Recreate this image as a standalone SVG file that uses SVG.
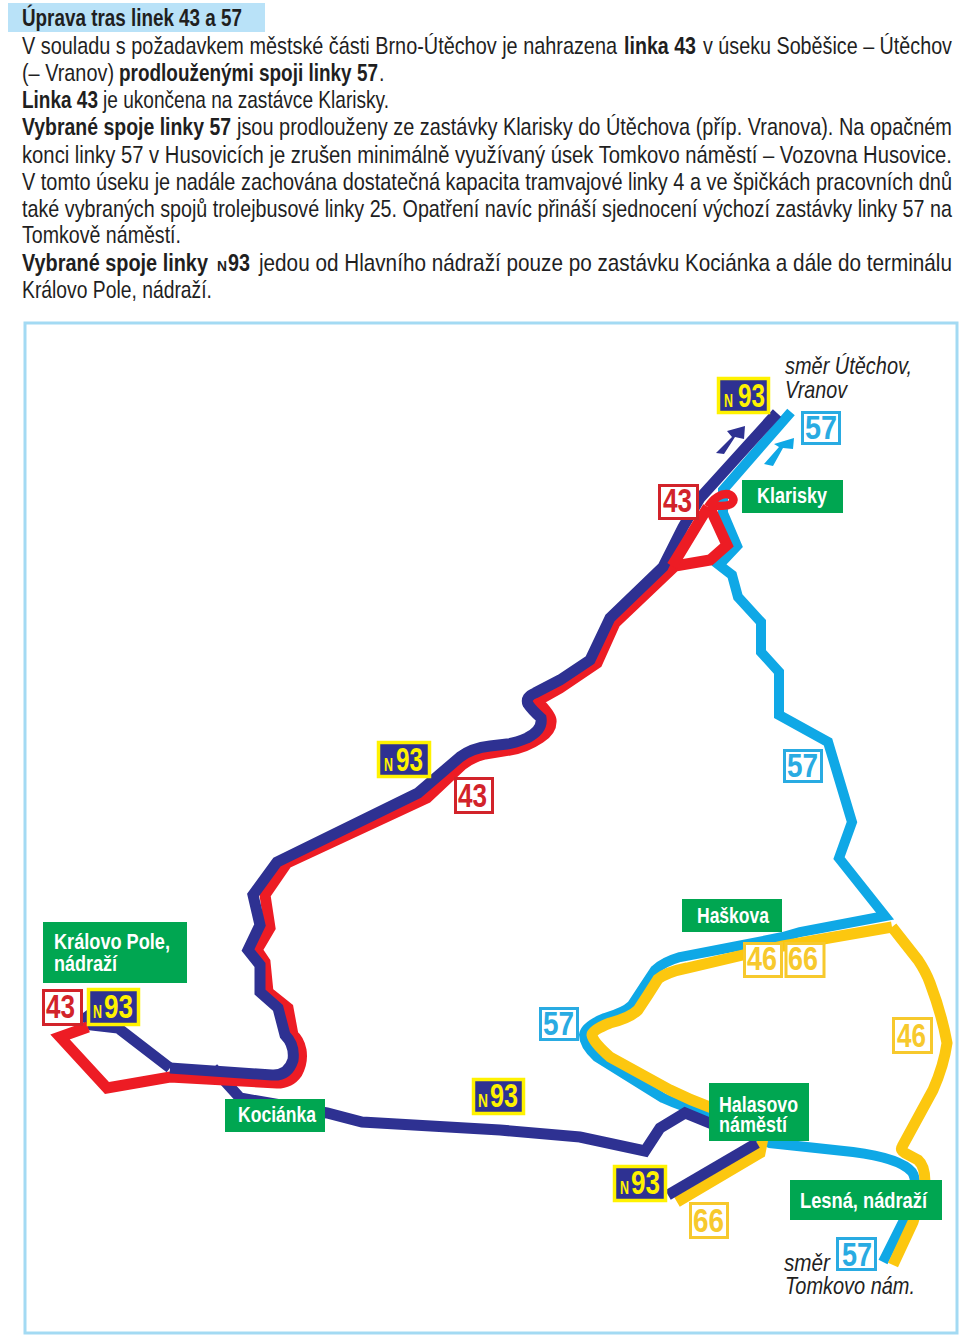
<svg xmlns="http://www.w3.org/2000/svg" width="960" height="1342" viewBox="0 0 960 1342">
<style>
text{font-family:"Liberation Sans Narrow","Liberation Sans",Arial,sans-serif}
.t{font-size:24px;fill:#1f1f1f}
.b{font-weight:700}
.d{font-size:24px;fill:#1f1f1f;font-style:italic}
.g{fill:#00a651}
.l{font-size:22px;font-weight:700;fill:#fff}
.n{font-size:33px;font-weight:700}
.line{fill:none;stroke-width:11;stroke-linejoin:miter;stroke-miterlimit:6}
.nv{stroke:#2e3192}.rd{stroke:#ed1c24}.bl{stroke:#0fa8e6;stroke-width:10}.yl{stroke:#fcc70f}
.bx{fill:#fff;stroke-width:3}
.ny{fill:#2e3192;stroke:#fff200;stroke-width:3.5}
.ytx{fill:#fff200}
</style>
<rect x="8" y="3" width="257" height="29" fill="#b9e2f8"/>
<rect x="25" y="323" width="932" height="1010" fill="none" stroke="#a3daf3" stroke-width="3"/>
<g id="text">
<text class="t b" transform="scale(.82 1)" x="26.83" y="26" textLength="268.3" lengthAdjust="spacingAndGlyphs">Úprava tras linek 43 a 57</text>
<text class="t" transform="scale(.82 1)" x="26.83" y="54" textLength="725.6" lengthAdjust="spacingAndGlyphs">V souladu s požadavkem městské části Brno-Útěchov je nahrazena</text>
<text class="t b" transform="scale(.82 1)" x="760.98" y="54" textLength="87.8" lengthAdjust="spacingAndGlyphs">linka 43</text>
<text class="t" transform="scale(.82 1)" x="857.3" y="54" textLength="303.66" lengthAdjust="spacingAndGlyphs">v úseku Soběšice – Útěchov</text>
<text class="t" transform="scale(.82 1)" x="26.83" y="81.5" textLength="112.2" lengthAdjust="spacingAndGlyphs">(– Vranov)</text>
<text class="t b" transform="scale(.82 1)" x="145.1" y="81.5" textLength="315.85" lengthAdjust="spacingAndGlyphs">prodlouženými spoji linky 57</text>
<text class="t" transform="scale(.82 1)" x="462.2" y="81.5">.</text>
<text class="t b" transform="scale(.82 1)" x="26.83" y="108" textLength="92.68" lengthAdjust="spacingAndGlyphs">Linka 43</text>
<text class="t" transform="scale(.82 1)" x="125.6" y="108" textLength="348.8" lengthAdjust="spacingAndGlyphs">je ukončena na zastávce Klarisky.</text>
<text class="t b" transform="scale(.82 1)" x="26.83" y="135.5" textLength="254.9" lengthAdjust="spacingAndGlyphs">Vybrané spoje linky 57</text>
<text class="t" transform="scale(.82 1)" x="289" y="135.5" textLength="871.95" lengthAdjust="spacingAndGlyphs">jsou prodlouženy ze zastávky Klarisky do Útěchova (příp. Vranova). Na opačném</text>
<text class="t" transform="scale(.82 1)" x="26.83" y="163" textLength="1134.1" lengthAdjust="spacingAndGlyphs">konci linky 57 v Husovicích je zrušen minimálně využívaný úsek Tomkovo náměstí – Vozovna Husovice.</text>
<text class="t" transform="scale(.82 1)" x="26.83" y="190" textLength="1134.1" lengthAdjust="spacingAndGlyphs">V tomto úseku je nadále zachována dostatečná kapacita tramvajové linky 4 a ve špičkách pracovních dnů</text>
<text class="t" transform="scale(.82 1)" x="26.83" y="217" textLength="1134.1" lengthAdjust="spacingAndGlyphs">také vybraných spojů trolejbusové linky 25. Opatření navíc přináší sjednocení výchozí zastávky linky 57 na</text>
<text class="t" transform="scale(.82 1)" x="26.83" y="243.5" textLength="193.9" lengthAdjust="spacingAndGlyphs">Tomkově náměstí.</text>
<text class="t b" transform="scale(.82 1)" x="26.83" y="271" textLength="226.8" lengthAdjust="spacingAndGlyphs">Vybrané spoje linky</text>
<text class="t b" transform="scale(.82 1)" x="264.6" y="271" font-size="15" style="font-size:15px" textLength="12.2" lengthAdjust="spacingAndGlyphs">N</text>
<text class="t b" transform="scale(.82 1)" x="278.05" y="271" textLength="26.83" lengthAdjust="spacingAndGlyphs">93</text>
<text class="t" transform="scale(.82 1)" x="315.85" y="271" textLength="845.1" lengthAdjust="spacingAndGlyphs">jedou od Hlavního nádraží pouze po zastávku Kociánka a dále do terminálu</text>
<text class="t" transform="scale(.82 1)" x="26.83" y="298" textLength="231.7" lengthAdjust="spacingAndGlyphs">Královo Pole, nádraží.</text>
</g>
<g id="connectors">
<path class="line bl" d="M791 412L723 490L723 513L737 546L719 565L732 575L738 597L761 622L761 652L779 672L779 715L828 742L852 822L839 858L885 916L800 932L783 937L743 945L680 957Q663 962 655 970Q645 985 632 1005Q625 1012 605 1018Q585 1026 584 1035Q584 1045 597 1057L663 1098Q685 1108 712 1115L770 1143L853 1152Q900 1158 912 1172Q916 1178 915 1190L903 1222L883 1262"/>
<path class="line yl" d="M892 927L783 946L743 955L687 968Q667 972 658 979Q648 995 638 1010Q630 1018 610 1023Q592 1030 592 1035Q593 1042 610 1057L670 1090Q690 1100 712 1108"/>
<path class="line yl" d="M892 927L918 960Q926 972 930 983Q942 1015 947 1043Q944 1065 933 1090L902 1147Q900 1150 905 1153L918 1160Q925 1166 925 1182L913 1222L893 1265"/>
<path class="line yl" d="M763 1138L760 1153L677 1202"/>
<path class="line nv" d="M83 1013L92 1025L118 1028L170 1068"/>
<path class="line nv" d="M213 1068L240 1098L327 1113L362 1122L500 1130L580 1137L645 1151L660 1128L685 1113L712 1124"/>
<path class="line nv" d="M668 1195L757 1143"/>
<path class="line rd" d="M88 1027L60 1037L107 1088L170 1077L277 1083Q290 1083 297 1073Q303 1062 301 1050Q299 1040 293 1035L288 1008L268 992L265 962L257 950L270 928L265 895L287 863L427 798L462 765Q472 757 485 754L510 750Q525 748 540 738Q552 730 551 720Q550 714 537 701L560 688L597 663L615 623L675 566L710 560L727 545L710 508"/>
<path class="line nv" d="M777 413L700 498L683 527L663 567L610 618L590 660L560 680L535 693Q525 697 528 704Q532 710 541 718Q543 730 527 738Q515 743 507 744L490 746Q472 748 460 757L418 793L277 862L253 895L260 925L248 950L260 965L260 992L278 1008L285 1035Q295 1045 293 1060Q288 1076 272 1075L170 1068"/>
<path class="line rd" d="M672 566L680 553L708 507" />
<path fill="none" stroke="#ed1c24" stroke-width="8.5" d="M708 507C714 497 722 494 726 494C733 494 735 500 732 503C730 506 722 506 708 506"/>
<polygon fill="#2e3192" points="716,453 724,454 735,437 744,439 745,426 727,431 732,437"/>
<polygon fill="#0fa8e6" points="764,464 773,466 783,448 793,449 794,438 774,444 779,447"/>
</g>
<g id="klarisky"><rect class="g" x="742" y="480" width="101" height="33"/><text class="l" x="757" y="503" textLength="70" lengthAdjust="spacingAndGlyphs">Klarisky</text></g>
<g id="kralovo-pole"><rect class="g" x="43" y="922" width="144" height="61"/><text class="l" x="54" y="949" textLength="116" lengthAdjust="spacingAndGlyphs">Královo Pole,</text><text class="l" x="54" y="971" textLength="63" lengthAdjust="spacingAndGlyphs">nádraží</text></g>
<g id="kocianka"><rect class="g" x="225" y="1099" width="100" height="33"/><text class="l" x="238" y="1122" textLength="78" lengthAdjust="spacingAndGlyphs">Kociánka</text></g>
<g id="haskova"><rect class="g" x="682" y="899" width="100" height="33"/><text class="l" x="697" y="923" textLength="72" lengthAdjust="spacingAndGlyphs">Haškova</text></g>
<g id="halasovo"><rect class="g" x="709" y="1083" width="100" height="58"/><text class="l" x="719" y="1112" textLength="79" lengthAdjust="spacingAndGlyphs">Halasovo</text><text class="l" x="719" y="1132" textLength="68" lengthAdjust="spacingAndGlyphs">náměstí</text></g>
<g id="lesna"><rect class="g" x="790" y="1180" width="152" height="40"/><text class="l" x="800" y="1208" textLength="127" lengthAdjust="spacingAndGlyphs">Lesná, nádraží</text></g>
<g id="r43-top"><rect class="bx" x="659.5" y="485.5" width="38" height="33" stroke="#d2232a"/><text class="n" x="663" y="512" fill="#d2232a" textLength="29" lengthAdjust="spacingAndGlyphs">43</text></g>
<g id="r57-top"><rect class="bx" x="802.5" y="412.5" width="37" height="31" stroke="#29abe2"/><text class="n" x="805" y="439" fill="#29abe2" textLength="32" lengthAdjust="spacingAndGlyphs">57</text></g>
<g id="n93-top"><rect class="ny" x="718.5" y="378.5" width="50" height="34"/><text class="ytx b" x="724" y="407" font-size="18" textLength="9" lengthAdjust="spacingAndGlyphs">N</text><text class="n ytx" x="738" y="407" textLength="27" lengthAdjust="spacingAndGlyphs">93</text></g>
<g id="n93-mid"><rect class="ny" x="378.5" y="742.5" width="51" height="34"/><text class="ytx b" x="384" y="771" font-size="18" textLength="9" lengthAdjust="spacingAndGlyphs">N</text><text class="n ytx" x="396" y="771" textLength="27" lengthAdjust="spacingAndGlyphs">93</text></g>
<g id="r43-mid"><rect class="bx" x="455.5" y="778.5" width="37" height="34" stroke="#d2232a"/><text class="n" x="458" y="807" fill="#d2232a" textLength="29" lengthAdjust="spacingAndGlyphs">43</text></g>
<g id="r57-mid"><rect class="bx" x="784.5" y="750.5" width="37" height="31" stroke="#29abe2"/><text class="n" x="787" y="777" fill="#29abe2" textLength="31" lengthAdjust="spacingAndGlyphs">57</text></g>
<g id="r43-left"><rect class="bx" x="43.5" y="990.5" width="38" height="34" stroke="#d2232a"/><text class="n" x="46" y="1018" fill="#d2232a" textLength="29" lengthAdjust="spacingAndGlyphs">43</text></g>
<g id="n93-left"><rect class="ny" x="88.5" y="989.5" width="50" height="35"/><text class="ytx b" x="93" y="1018" font-size="18" textLength="9" lengthAdjust="spacingAndGlyphs">N</text><text class="n ytx" x="104" y="1018" textLength="29" lengthAdjust="spacingAndGlyphs">93</text></g>
<g id="r57-low"><rect class="bx" x="540.5" y="1008.5" width="37" height="31" stroke="#29abe2"/><text class="n" x="543" y="1035" fill="#29abe2" textLength="31" lengthAdjust="spacingAndGlyphs">57</text></g>
<g id="r46-a"><rect class="bx" x="744.5" y="943.5" width="37" height="33" stroke="#f7c92d"/><text class="n" x="747" y="970" fill="#f7c92d" textLength="30" lengthAdjust="spacingAndGlyphs">46</text></g>
<g id="r66-a"><rect class="bx" x="786" y="943.5" width="38" height="33" stroke="#f7c92d"/><text class="n" x="788" y="970" fill="#f7c92d" textLength="30" lengthAdjust="spacingAndGlyphs">66</text></g>
<g id="r46-b"><rect class="bx" x="893.5" y="1018.5" width="38" height="34" stroke="#f7c92d"/><text class="n" x="897" y="1047" fill="#f7c92d" textLength="29" lengthAdjust="spacingAndGlyphs">46</text></g>
<g id="n93-low"><rect class="ny" x="473.5" y="1079.5" width="50" height="34"/><text class="ytx b" x="478" y="1107" font-size="18" textLength="10" lengthAdjust="spacingAndGlyphs">N</text><text class="n ytx" x="490" y="1107" textLength="28" lengthAdjust="spacingAndGlyphs">93</text></g>
<g id="n93-right"><rect class="ny" x="614.5" y="1166.5" width="51" height="34"/><text class="ytx b" x="620" y="1194" font-size="18" textLength="9" lengthAdjust="spacingAndGlyphs">N</text><text class="n ytx" x="631" y="1194" textLength="29" lengthAdjust="spacingAndGlyphs">93</text></g>
<g id="r66-b"><rect class="bx" x="690.5" y="1203.5" width="37" height="34" stroke="#f7c92d"/><text class="n" x="693" y="1232" fill="#f7c92d" textLength="31" lengthAdjust="spacingAndGlyphs">66</text></g>
<g id="r57-bottom"><rect class="bx" x="837.5" y="1238.5" width="38" height="31" stroke="#29abe2"/><text class="n" x="842" y="1266" fill="#29abe2" textLength="30" lengthAdjust="spacingAndGlyphs">57</text></g>
<g id="dir-top"><text class="d" x="785" y="374" textLength="127" lengthAdjust="spacingAndGlyphs">směr Útěchov,</text><text class="d" x="785" y="398" textLength="62" lengthAdjust="spacingAndGlyphs">Vranov</text></g>
<g id="dir-bottom"><text class="d" x="784" y="1271" textLength="46" lengthAdjust="spacingAndGlyphs">směr</text><text class="d" x="785" y="1294" textLength="130" lengthAdjust="spacingAndGlyphs">Tomkovo nám.</text></g>
</svg>
